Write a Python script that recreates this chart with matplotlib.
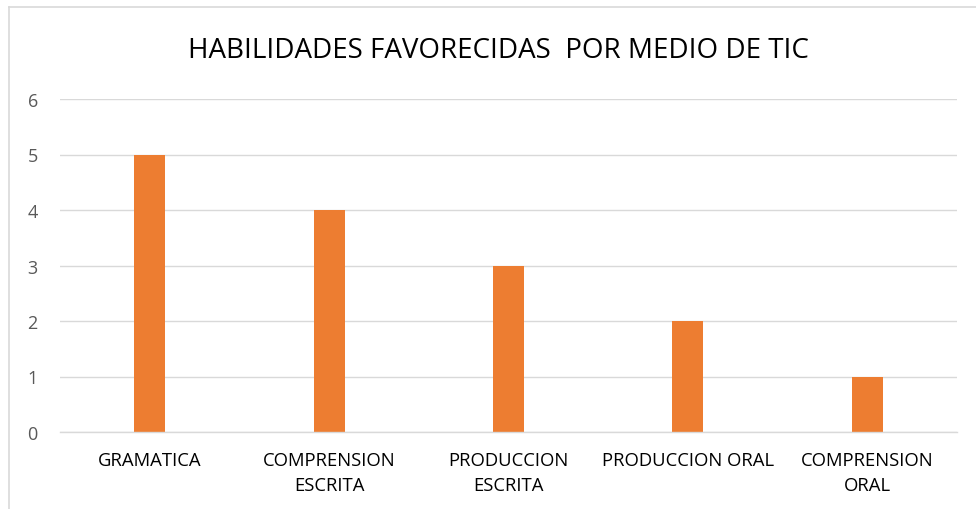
import matplotlib
matplotlib.use("Agg")
import matplotlib.pyplot as plt
from matplotlib.lines import Line2D
import numpy as np

categories = ["GRAMATICA", "COMPRENSION\nESCRITA", "PRODUCCION\nESCRITA",
              "PRODUCCION ORAL", "COMPRENSION\nORAL"]
values = [5, 4, 3, 2, 1]
y_ticks = [0, 1, 2, 3, 4, 5, 6]
title = "HABILIDADES FAVORECIDAS  POR MEDIO DE TIC"

plt.rcParams["font.family"] = ["Open Sans", "DejaVu Sans"]

W, H = 976, 510
fig = plt.figure(figsize=(W / 100, H / 100), dpi=100)
ax = fig.add_axes([60 / W, 1 - 433 / H, (957 - 60) / W, (433 - 100) / H])

x = np.arange(len(categories))
ax.bar(x, values, width=0.173, color="#ED7D31", zorder=3)

ax.set_xlim(-0.5, len(categories) - 0.5)
ax.set_ylim(0, 6)
ax.set_yticks(y_ticks)
ax.set_xticks(x)
ax.set_xticklabels(categories, fontsize=13.3, color="#000000", linespacing=1.45)
ax.tick_params(axis="y", labelsize=13, labelcolor="#595959", length=0, pad=16)
ax.tick_params(axis="x", length=0, pad=14)
ax.grid(axis="y", color="#D9D9D9", lw=1, zorder=0)
for side in ["top", "right", "left"]:
    ax.spines[side].set_visible(False)
ax.spines["bottom"].set_color("#D9D9D9")
ax.spines["bottom"].set_linewidth(1)
ax.spines["bottom"].set_zorder(4)

fig.text(498 / W, 1 - 51 / H, title, ha="center", va="center", fontsize=20, color="#000000")

# chart-area border (cut off at right and bottom)
fig.add_artist(Line2D([8.5 / W, 8.5 / W], [0, 1 - 7.5 / H], color="#D9D9D9", lw=1.2))
fig.add_artist(Line2D([8.5 / W, 1], [1 - 7.5 / H, 1 - 7.5 / H], color="#D9D9D9", lw=1.2))

fig.savefig("out.png", dpi=100)
